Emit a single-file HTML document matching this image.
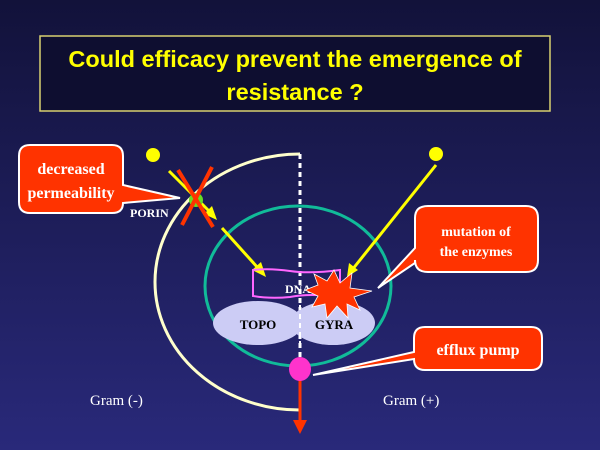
<!DOCTYPE html>
<html><head><style>body{margin:0;width:600px;height:450px;overflow:hidden}</style></head><body>
<svg width="600" height="450" xmlns="http://www.w3.org/2000/svg" font-family="Liberation Serif, serif">
<defs><linearGradient id="bg" x1="0" y1="0" x2="0" y2="1"><stop offset="0" stop-color="#12123a"/><stop offset="1" stop-color="#29297a"/></linearGradient></defs>
<rect width="600" height="450" fill="url(#bg)"/>
<rect x="40" y="36" width="510" height="75" fill="#0e0e30" stroke="#d8d070" stroke-width="1.5"/>
<text x="295" y="67" fill="#ffff00" font-family="Liberation Sans, sans-serif" font-weight="bold" font-size="23.5" text-anchor="middle">Could efficacy prevent the emergence of</text>
<text x="295" y="100" fill="#ffff00" font-family="Liberation Sans, sans-serif" font-weight="bold" font-size="23.5" text-anchor="middle">resistance ?</text>
<path d="M300 154 A145 128 0 0 0 300 410" fill="none" stroke="#ffffcc" stroke-width="3"/>
<ellipse cx="298" cy="286" rx="93" ry="80" fill="none" stroke="#11bb99" stroke-width="3"/>
<line x1="300" y1="154" x2="300" y2="358" stroke="#fff" stroke-width="3" stroke-dasharray="5,4"/>
<circle cx="153" cy="155" r="7" fill="#ffff00"/><circle cx="436" cy="154" r="7" fill="#ffff00"/>
<g stroke="#ffff00" stroke-width="3" fill="#ffff00">
<line x1="169" y1="171" x2="210" y2="212"/><polygon points="217,220 204,214 212,206" stroke="none"/>
<line x1="222" y1="228" x2="258" y2="268"/><polygon points="266,277 252,270 261,262" stroke="none"/>
<line x1="436" y1="165" x2="352" y2="270"/><polygon points="347,277 349,263 358,270" stroke="none"/>
</g>
<circle cx="196" cy="200" r="7" fill="#66dd22"/>
<g stroke="#ff3300" stroke-width="4"><line x1="178" y1="170" x2="213" y2="227"/><line x1="212" y1="167" x2="182" y2="225"/></g>
<text x="130" y="217" fill="#fff" font-size="12" font-weight="bold">PORIN</text>
<path d="M253 270 Q270 268 290 271 Q310 274 340 270 L340 297 Q310 293 290 297 Q270 299 253 296 Z" fill="none" stroke="#ff66ff" stroke-width="2"/>
<text x="285" y="293" fill="#fff" font-size="12" font-weight="bold">DNA</text>
<ellipse cx="258" cy="323" rx="45" ry="22" fill="#ccccf5"/>
<ellipse cx="333" cy="323" rx="42" ry="22" fill="#ccccf5"/>
<line x1="300" y1="305" x2="300" y2="345" stroke="#fff" stroke-width="2" stroke-dasharray="5,4"/>
<text x="258" y="329" fill="#000" font-size="13" font-weight="bold" text-anchor="middle">TOPO</text>
<text x="334" y="329" fill="#000" font-size="13" font-weight="bold" text-anchor="middle">GYRA</text>
<polygon points="334,270 340,283 352,273 350,288 372,291 354,297 360,310 347,304 348,318 337,306 327,318 325,304 312,307 318,296 305,290 318,285 314,274 327,281" fill="#ff3300" stroke="#fff" stroke-width="0.8"/>
<line x1="300" y1="375" x2="300" y2="422" stroke="#ff3300" stroke-width="3"/>
<polygon points="293,420 307,420 300,434" fill="#ff3300"/>
<ellipse cx="300" cy="369" rx="11" ry="12" fill="#ff33cc"/>
<g fill="#ff3300" stroke="#fff" stroke-width="2">
<path d="M30 145 H112 Q123 145 123 156 V185 L180 198 L123 203 Q123 213 112 213 H30 Q19 213 19 202 V156 Q19 145 30 145 Z"/>
<path d="M428 206 H526 Q538 206 538 218 V260 Q538 272 526 272 H428 Q415 272 415 260 V263 L378 288 L415 248 V218 Q415 206 428 206 Z"/>
<path d="M425 327 H531 Q542 327 542 338 V359 Q542 370 531 370 H425 Q414 370 414 359 L313 375 L414 352 V338 Q414 327 425 327 Z"/>
</g>
<g fill="#fff" font-weight="bold" text-anchor="middle">
<text x="71" y="174" font-size="16">decreased</text>
<text x="71" y="198" font-size="16">permeability</text>
<text x="476" y="236" font-size="14">mutation of</text>
<text x="476" y="256" font-size="14">the enzymes</text>
<text x="478" y="355" font-size="16">efflux pump</text>
</g>
<text x="90" y="405" fill="#fff" font-size="15">Gram (-)</text>
<text x="383" y="405" fill="#fff" font-size="15">Gram (+)</text>
</svg>
</body></html>
